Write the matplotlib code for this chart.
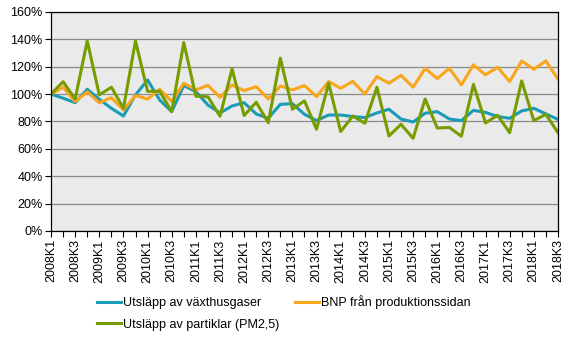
import matplotlib
matplotlib.use("Agg")
import matplotlib.pyplot as plt
from matplotlib.ticker import FixedLocator, PercentFormatter

plt.rcParams['font.family'] = ['Liberation Sans', 'DejaVu Sans']
plt.rcParams['font.size'] = 9

# kvartal 2008K1 .. 2018K3
quarters = [f"{y}K{q}" for y in range(2008, 2019) for q in range(1, 5)][:43]

vaxthusgaser = [100, 97, 93.7, 103.5, 96.2, 89.6, 84, 99.4, 110.3, 95.7, 87.2,
                106.2, 101.8, 92, 86.2, 91.3, 93.7, 85.5, 82.3, 92.5, 93, 85.2,
                80.6, 84.7, 84.7, 83.6, 82.8, 86.2, 88.9, 81.8, 79.6, 86, 87.2,
                81.8, 80.6, 88.1, 86.6, 83.6, 82.3, 87.7, 89.6, 85.5, 81.5]
bnp = [100, 105, 94.5, 101.6, 93.7, 97.4, 88.4, 98.9, 96.4, 103.5, 94.5,
       107.9, 103, 106.4, 97.6, 106.7, 102.5, 105.4, 96.4, 105.9, 103, 106.2,
       98.1, 109.1, 104.2, 109.3, 100, 112.8, 107.9, 113.7, 105, 118.8, 111.3,
       118.8, 106.7, 121.3, 114, 119.6, 109.1, 124.2, 118.1, 124.2, 111]
partiklar = [100, 109, 96.4, 138.8, 99.4, 105, 89.6, 138.8, 102, 102, 87.2,
             137.6, 98.4, 98, 83.8, 118.4, 84.3, 94, 79.1, 126.2, 88.9, 95,
             74.3, 107.9, 72.6, 84, 78.7, 105, 69.4, 77.9, 67.7, 96.4, 75.2,
             75.6, 69.2, 107.1, 78.9, 84.5, 71.8, 109.6, 80.6, 85.2, 71.8]

fig = plt.figure(figsize=(5.67, 3.4), dpi=100)
ax = fig.add_axes([0.09, 0.3206, 0.894, 0.6444])
ax.set_facecolor('#EAEAEA')

x = list(range(len(quarters)))
l1, = ax.plot(x, vaxthusgaser, color='#1A9BB8', lw=2.2, label='Utsläpp av växthusgaser')
l2, = ax.plot(x, bnp, color='#F9A61C', lw=2.2, label='BNP från produktionssidan')
l3, = ax.plot(x, partiklar, color='#779C00', lw=2.2, label='Utsläpp av partiklar (PM2,5)')

ax.set_xlim(0, len(quarters) - 1)
ax.set_ylim(0, 160)
ax.set_yticks(range(0, 161, 20))
ax.yaxis.set_major_formatter(PercentFormatter(decimals=0))
ax.yaxis.grid(True, color='#8A8A8A', lw=0.9)
ax.set_axisbelow(True)

ax.xaxis.set_major_locator(FixedLocator(x[::2]))
ax.set_xticklabels(quarters[::2], rotation=90)
ax.xaxis.set_minor_locator(FixedLocator(x))
ax.tick_params(axis='x', which='both', direction='out', length=4, width=0.8, pad=2)
ax.tick_params(axis='y', direction='out', length=4, width=0.8, pad=2)
for s in ax.spines.values():
    s.set_color('black')
    s.set_linewidth(0.9)

fig.legend(handles=[l1, l3, l2], ncol=2, loc='upper left',
           bbox_to_anchor=(0.16, 0.15), frameon=False, borderpad=0,
           handlelength=1.9, handletextpad=0.2, columnspacing=1.25,
           labelspacing=0.75, fontsize=9)

fig.savefig('out.png', dpi=100)
